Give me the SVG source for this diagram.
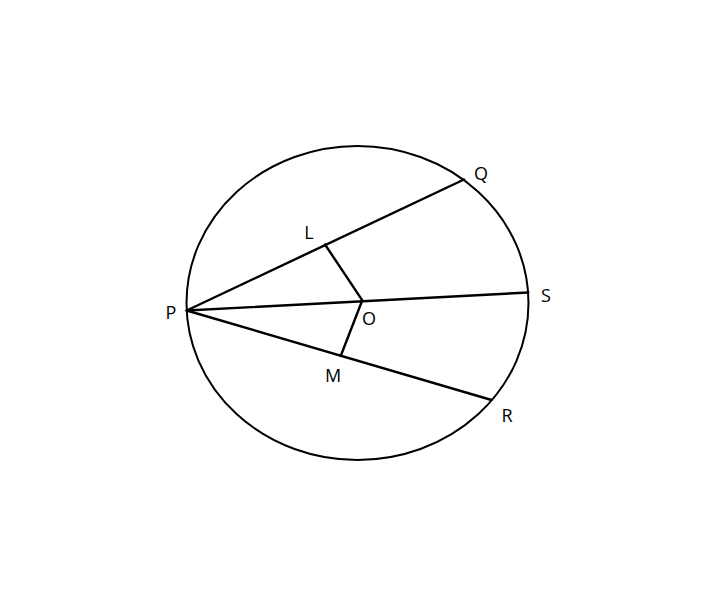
<svg xmlns="http://www.w3.org/2000/svg" width="710" height="599" viewBox="0 0 710 599">
<style>
.ln{stroke:#000;stroke-width:2.4;fill:none;stroke-linecap:round}
.c{stroke:#000;stroke-width:2;fill:none}
text{font-family:"Open Sans","Noto Sans",sans-serif;font-size:18px;fill:#000;text-anchor:middle;dominant-baseline:central}
</style>
<rect width="710" height="599" fill="#fff"/>
<g id="circle"><ellipse class="c" cx="357.5" cy="303" rx="171" ry="157"/></g>
<g id="connectors">
<line class="ln" x1="186.7" y1="310.5" x2="464" y2="179.5"/>
<line class="ln" x1="186.7" y1="310.5" x2="528.3" y2="292.5"/>
<line class="ln" x1="186.7" y1="310.5" x2="491.5" y2="400"/>
<line class="ln" x1="325" y1="244.5" x2="362.3" y2="300.3"/>
<line class="ln" x1="362.3" y1="300.3" x2="340.7" y2="356"/>
</g>
<g id="P"><text x="171" y="312">P</text></g>
<g id="Q"><text x="481" y="173">Q</text></g>
<g id="L"><text x="309" y="232">L</text></g>
<g id="O"><text x="369" y="318">O</text></g>
<g id="S"><text x="546" y="295">S</text></g>
<g id="M"><text x="333" y="375">M</text></g>
<g id="R"><text x="507" y="415">R</text></g>
</svg>
